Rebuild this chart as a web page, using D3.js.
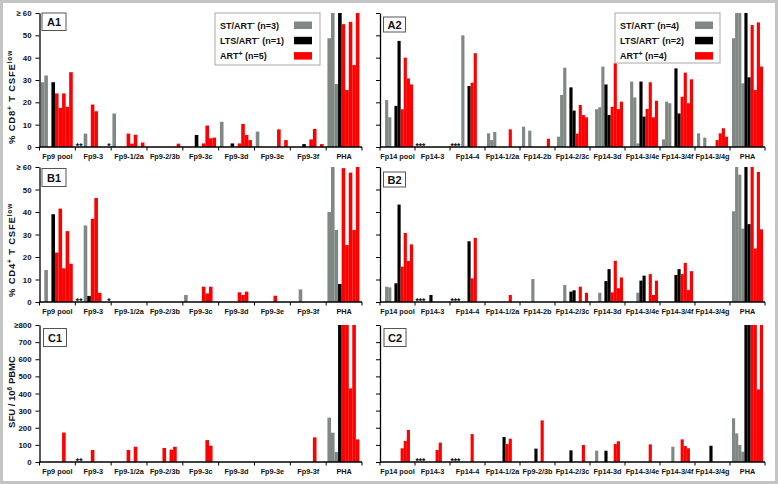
<!DOCTYPE html>
<html><head><meta charset="utf-8">
<script src="https://cdn.jsdelivr.net/npm/d3@7"></script>
<style>
body{margin:0;background:#fff}
text{font-family:Arial,"Liberation Sans",sans-serif;font-weight:bold;fill:#111}
</style></head>
<body><svg id="c" width="778" height="484"></svg>
<script>
// ---------------- DATA ----------------
const catsFp9 = ["Fp9 pool","Fp9-3","Fp9-1/2a","Fp9-2/3b","Fp9-3c","Fp9-3d","Fp9-3e","Fp9-3f","PHA"];
const catsFp14 = ["Fp14 pool","Fp14-3","Fp14-4","Fp14-1/2a","Fp14-2b","Fp14-2/3c","Fp14-3d","Fp14-3/4e","Fp14-3/4f","Fp14-3/4g","PHA"];
const catsFp14C = ["Fp14 pool","Fp14-3","Fp14-4","Fp14-1/2a","Fp9-2/3b","Fp14-2/3c","Fp14-3d","Fp14-3/4e","Fp14-3/4f","Fp14-3/4g","PHA"];

// patient groups (one bar per patient in each category)
const patientsFp9 = ["ST","ST","ST","LTS","ART","ART","ART","ART","ART"];
const patientsFp14 = ["ST","ST","ST","ST","LTS","LTS","ART","ART","ART","ART"];

const legendFp9 = [["ST/ART","-","  (n=3)","ST"],["LTS/ART","-","  (n=1)","LTS"],["ART","+","  (n=5)","ART"]];
const legendFp14 = [["ST/ART","-","  (n=4)","ST"],["LTS/ART","-","  (n=2)","LTS"],["ART","+","  (n=4)","ART"]];

const pctTicks = [0,10,20,30,40,50,60];
const pctTickLabels = ["0","10","20","30","40","50","\u2265 60"];
const sfuTicks = [0,100,200,300,400,500,600,700,800];
const sfuTickLabels = ["0","100","200","300","400","500","600","700","\u2265800"];

// % CD8+ CFSE-low (A1)
const valuesA1 = [
  [29,32,0,29,24,17.5,24,18,33.5],
  [0,0,6,0,19,16,0,0,0],
  [15,0,0,0,6,1.5,5.5,0,2],
  [0,0,0,0,0,0,0,0,1.5],
  [0,0,0,5.4,0,1.6,9.6,3.9,4.2],
  [11.3,0,0,1.6,0,1.6,10.3,5.4,3.1],
  [6.9,0,0,0,0,0,7.9,0,3.1],
  [0,0,0,1.3,0,3.4,8.1,0,1.3],
  [48.7,60,28.2,60,55,25.5,56,36.7,60]
];
// % CD4+ CFSE-low (B1)
const valuesB1 = [
  [0,14.2,0,39,22,41.5,15,31.5,17],
  [0,0,34,2.7,37,46.2,4.1,0,0],
  [0,0,0,0,0,0,0,0,0],
  [0,0,0,0,0,0,0,0,0],
  [3.1,0,0,0,0,6.8,3.8,6.8,0],
  [0,0,0,0,0,4.3,3.1,4.6,0],
  [0,0,0,0,0,2.8,0,0,0],
  [0,0,5.6,0,0,0,0,0,0],
  [40,60,32,8,59.5,25.3,57.5,32,60]
];
// SFU / 10^6 PBMC (C1)
const valuesC1 = [
  [0,0,0,0,0,0,172,0,0],
  [0,0,0,0,70,0,0,0,0],
  [0,0,0,0,70,0,89,0,0],
  [0,0,0,0,82,0,72,89,0],
  [0,0,0,0,0,0,128,95,0],
  [0,0,0,0,0,0,0,0,0],
  [0,0,0,0,0,0,0,0,0],
  [0,0,0,0,0,0,144,0,0],
  [259,171,58,800,800,800,430,800,132]
];
// A2
const valuesA2 = [
  [0,21,13.3,0,18.4,47.5,16.9,40,30.7,28],
  [0,0,0,0,0,0,0,0,0,0],
  [0,0,0,50,0,27.3,28.8,42,0,0],
  [6.1,3.1,6.7,0,0,0,0,7.9,0,0],
  [9.1,0,7.3,0,0,0,0,0,3.7,0],
  [4.6,23.3,35.5,0,26.7,16.3,6,18.8,14.3,13.3],
  [0,16.9,17.8,36,28,14.3,18,37.5,17,20.3],
  [0,29.3,22.2,1.6,29.3,13.6,17,29,13.3,20.7],
  [3.4,20.3,19.6,0,35.2,15,22.5,33.3,19.6,30.3],
  [6.1,0,4.2,0,0,0,3.1,6.1,8.4,4.6],
  [48.7,60,60,28.5,60,31.2,54.6,25.5,55.8,36]
];
// B2
const valuesB2 = [
  [0,6.8,6.5,0,8.3,43.3,15.7,30.7,18.2,25.6],
  [0,0,0,0,3.1,0,0,0,0,0],
  [0,0,0,0,0,27,10.5,28.5,0,0],
  [0,0,0,0,0,0,0,3.1,0,0],
  [0,0,0,10.2,0,0,0,0,0,0],
  [0,0,7.5,0,4.6,5.2,0,6.8,0,4.1],
  [0,0,4.1,0,9.3,14.6,4.3,18.3,6.1,10.9],
  [0,0,0,4.1,9.5,11.7,0,12.4,3.1,9.5],
  [0,0,0,0,12,14.6,12.4,17.4,5.3,13.7],
  [0,0,0,0,0,0,0,0,0,0],
  [40.3,60,56.6,32.6,60,34.6,60,23.8,57.8,32.3]
];
// C2
const valuesC2 = [
  [0,0,0,0,0,0,80,123,187,0],
  [0,0,0,0,0,0,70,113,0,0],
  [0,0,0,0,0,0,163,0,0,0],
  [0,0,0,0,0,146,105,136,0,0],
  [0,0,0,0,78,0,243,0,0,0],
  [0,0,0,0,68,0,0,0,99,0],
  [0,66,0,0,66,0,0,105,121,0],
  [0,0,0,0,0,0,0,103,0,0],
  [0,0,0,89,0,0,132,93,80,0],
  [0,0,0,0,95,0,0,0,0,0],
  [255,167,99,60,800,800,800,800,424,800]
];

// not-tested markers: [category, text, anchor]
const markersFp9 = [["Fp9-3","**","start"],["Fp9-1/2a","*","end"]];
const markersFp9C = [["Fp9-3","**","start"]];
const markersFp14 = [["Fp14-3","***","start"],["Fp14-4","***","start"]];

// ---------------- DRAW ----------------
const svg = d3.select("#c");
svg.append("rect").attr("x",1.5).attr("y",1.5).attr("width",775).attr("height",481)
  .attr("fill","#fff").attr("stroke","#c4c4c4").attr("stroke-width",3);

const colorOf = {ST:"#808884", LTS:"#000000", ART:"#ff0000"};

function panel(p){
  const g = svg.append("g");
  const x = d3.scaleBand().domain(p.cats).range(p.xr);
  const bw = x.bandwidth();
  const x1 = d3.scaleBand().domain(d3.range(p.patients.length)).range([bw*p.inner[0], bw*p.inner[1]]);
  const y = d3.scaleLinear().domain([0,p.max]).range(p.yr).clamp(true);

  const flat = [];
  p.cats.forEach((c,i)=>p.values[i].forEach((v,j)=>{ if(v>0) flat.push({c,j,v}); }));
  g.selectAll("rect.bar").data(flat).join("rect").attr("class","bar")
    .attr("x",d=>x(d.c)+x1(d.j)).attr("width",x1.bandwidth()+0.05)
    .attr("y",d=>y(d.v)).attr("height",d=>y(0)-y(d.v))
    .attr("fill",d=>colorOf[p.patients[d.j]]);

  // y axis
  const ya = d3.axisLeft(y).tickValues(p.ticks).tickSize(4).tickSizeOuter(0)
    .tickFormat((d,i)=>p.showLabels ? p.tickLabels[i] : "");
  const yg = g.append("g").attr("transform",`translate(${p.xr[0]},0)`).call(ya);
  yg.select(".domain").attr("stroke","#000").attr("stroke-width",1.3);
  yg.selectAll(".tick line").attr("stroke","#000").attr("stroke-width",1);
  yg.selectAll(".tick text").attr("font-size",7.8).attr("font-family","Arial,'Liberation Sans',sans-serif").attr("font-weight","bold").attr("fill","#111").attr("dx",-1);

  // x axis
  const y0 = y(0);
  g.append("line").attr("x1",p.xr[0]).attr("x2",p.xr[1]).attr("y1",y0).attr("y2",y0).attr("stroke","#000").attr("stroke-width",1.3);
  const bounds = p.cats.map(c=>x(c)).concat([p.xr[1]]);
  g.selectAll("line.xt").data(bounds).join("line").attr("class","xt")
    .attr("x1",d=>d).attr("x2",d=>d).attr("y1",y0).attr("y2",y0+3.5).attr("stroke","#000").attr("stroke-width",1);
  g.selectAll("text.xl").data(p.cats).join("text").attr("class","xl")
    .attr("x",d=>x(d)+bw/2).attr("y",y0+12).attr("text-anchor","middle").attr("font-size",7.3).text(d=>d);

  // markers
  g.selectAll("text.mk").data(p.markers).join("text").attr("class","mk")
    .attr("x",d=>x(d[0])+(d[2]==="start"?0.5:-0.5)).attr("y",y0+1.5).attr("text-anchor",d=>d[2])
    .attr("font-size",8.5).text(d=>d[1]);

  // panel label box
  g.append("rect").attr("x",p.box[0]).attr("y",p.box[1]).attr("width",p.box[2]).attr("height",p.box[3])
    .attr("fill","#fff").attr("stroke","#555").attr("stroke-width",1);
  g.append("text").attr("x",p.box[0]+p.box[2]/2).attr("y",p.box[1]+p.box[3]/2+4)
    .attr("text-anchor","middle").attr("font-size",11).text(p.label);

  // y title
  if(p.title){
    const t = g.append("text").attr("transform",`translate(${p.titlePos[0]},${p.titlePos[1]}) rotate(-90)`)
      .attr("text-anchor","middle").attr("font-size",9.5).attr("letter-spacing",p.titleSpacing||0);
    p.title.forEach((s,i)=>{
      const sup = i%2===1;
      t.append("tspan").attr("font-size",sup?6.5:9.5).attr("dy",sup?-3.5:(i>0?3.5:0)).text(s);
    });
  }

  // legend
  if(p.legend){
    const [lx,ly,lw,lh] = p.legendBox;
    const lg = g.append("g");
    lg.append("rect").attr("x",lx).attr("y",ly).attr("width",lw).attr("height",lh)
      .attr("fill","#fff").attr("stroke","#a8a8a8").attr("stroke-width",1);
    p.legend.forEach((e,i)=>{
      const cy = ly+12+i*15.3;
      const t = lg.append("text").attr("x",lx+5).attr("y",cy+3.5).attr("font-size",9);
      t.append("tspan").text(e[0]);
      t.append("tspan").attr("font-size",7).attr("dy",-3.5).text(e[1]);
      t.append("tspan").attr("dy",3.5).text(e[2]);
      lg.append("rect").attr("x",p.swatchX).attr("y",cy-3.5).attr("width",18).attr("height",7.5)
        .attr("fill",colorOf[e[3]]);
    });
  }
}

const leftX = [39.5,362], rightX = [380,765];
const innerL = [0.035,0.927], innerR = [0.057,0.943];

panel({cats:catsFp9,values:valuesA1,patients:patientsFp9,xr:leftX,yr:[147,13],max:60,inner:innerL,
  ticks:pctTicks,tickLabels:pctTickLabels,showLabels:true,markers:markersFp9,
  box:[42,13,24,17.5],label:"A1",title:["% CD8","+"," T CSFE","low"],titlePos:[15,97],titleSpacing:0.8,
  legend:legendFp9,legendBox:[215,13,105,52],swatchX:294});
panel({cats:catsFp9,values:valuesB1,patients:patientsFp9,xr:leftX,yr:[302,167],max:60,inner:innerL,
  ticks:pctTicks,tickLabels:pctTickLabels,showLabels:true,markers:markersFp9,
  box:[42,168.5,24,18],label:"B1",title:["% CD4","+"," T CSFE","low"],titlePos:[15,250],titleSpacing:0.8});
panel({cats:catsFp9,values:valuesC1,patients:patientsFp9,xr:leftX,yr:[462,325],max:800,inner:innerL,
  ticks:sfuTicks,tickLabels:sfuTickLabels,showLabels:true,markers:markersFp9C,
  box:[43.5,328.5,23,18],label:"C1",title:["SFU / 10","6"," PBMC",""],titlePos:[15,392]});
panel({cats:catsFp14,values:valuesA2,patients:patientsFp14,xr:rightX,yr:[147,13],max:60,inner:innerR,
  ticks:pctTicks,tickLabels:pctTickLabels,showLabels:false,markers:markersFp14,
  box:[383.5,17,22,15],label:"A2",legend:legendFp14,legendBox:[615,13,105,50],swatchX:695});
panel({cats:catsFp14,values:valuesB2,patients:patientsFp14,xr:rightX,yr:[302,167],max:60,inner:innerR,
  ticks:pctTicks,tickLabels:pctTickLabels,showLabels:false,markers:markersFp14,
  box:[383.5,172,22,15],label:"B2"});
panel({cats:catsFp14C,values:valuesC2,patients:patientsFp14,xr:rightX,yr:[462,325],max:800,inner:innerR,
  ticks:sfuTicks,tickLabels:sfuTickLabels,showLabels:false,markers:markersFp14,
  box:[384,328.5,22,18],label:"C2"});
</script>
</body></html>
